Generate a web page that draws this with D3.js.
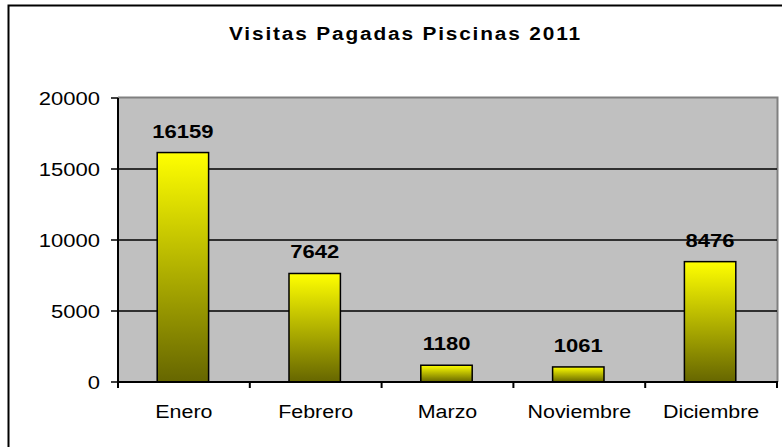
<!DOCTYPE html>
<html>
<head>
<meta charset="utf-8">
<script src="https://cdn.jsdelivr.net/npm/d3@7"></script>
<style>
  body { margin: 0; background: #fff; }
  text { font-family: "Liberation Sans", Arial, sans-serif; }
</style>
</head>
<body>
<div id="chart"></div>
<script>
// data
let months = ["Enero", "Febrero", "Marzo", "Noviembre", "Diciembre"];
let visits = [16159, 7642, 1180, 1061, 8476];
let yTicks = [0, 5000, 10000, 15000, 20000];
let title = "Visitas Pagadas Piscinas 2011";

let width = 782;
let height = 447;
let plot = {left: 118, right: 777, top: 98, bottom: 382};
let stretch = 1.19; // text in the original is a bit wider than normal

let svg = d3.select("#chart")
    .append("svg")
    .attr("width", width)
    .attr("height", height);

// gradient for the bars, yellow at the top going to dark olive
let grad = svg.append("defs").append("linearGradient")
    .attr("id", "barGrad")
    .attr("x1", 0).attr("y1", 0).attr("x2", 0).attr("y2", 1);
grad.append("stop").attr("offset", "0%").attr("stop-color", "#ffff00");
grad.append("stop").attr("offset", "100%").attr("stop-color", "#666600");

// outer frame of the chart, cut off on the right and bottom
svg.append("rect")
    .attr("x", 8.5).attr("y", 5.5)
    .attr("width", 820).attr("height", 480)
    .attr("fill", "#fff")
    .attr("stroke", "#000")
    .attr("stroke-width", 2);

const x = d3.scaleBand()
    .domain(months)
    .range([plot.left, plot.right]);

const y = d3.scaleLinear()
    .domain([0, 20000])
    .range([plot.bottom, plot.top]);

// helper for the horizontally stretched text
function stretchedText(px, py, str, size, weight, anchor) {
    return svg.append("g")
        .attr("transform", "translate(" + px + "," + py + ") scale(" + stretch + ",1)")
        .append("text")
        .attr("text-anchor", anchor)
        .style("font-size", size + "px")
        .style("font-weight", weight)
        .attr("fill", "#000")
        .text(str);
}

// gray plot area
svg.append("rect")
    .attr("x", plot.left).attr("y", plot.top)
    .attr("width", plot.right - plot.left)
    .attr("height", plot.bottom - plot.top)
    .attr("fill", "#c0c0c0");

// top and right border of the plot, gray
svg.append("path")
    .attr("d", "M" + plot.left + "," + (plot.top - 0.5) + "H" + (plot.right + 0.5) + "V" + plot.bottom)
    .attr("fill", "none")
    .attr("stroke", "#808080")
    .attr("stroke-width", 2);

// gridlines
svg.append("g")
    .selectAll("line")
    .data(yTicks.filter(d => d > 0 && d < 20000))
    .join("line")
    .attr("x1", plot.left).attr("x2", plot.right)
    .attr("y1", d => y(d)).attr("y2", d => y(d))
    .attr("stroke", "#000")
    .attr("stroke-width", 1.5);

// bars
let bw = x.bandwidth() * 0.39;
svg.append("g")
    .selectAll("rect")
    .data(visits)
    .join("rect")
    .attr("x", (d, i) => x(months[i]) + (x.bandwidth() - bw) / 2 - 1)
    .attr("y", d => y(d))
    .attr("width", bw)
    .attr("height", d => plot.bottom - y(d))
    .attr("fill", "url(#barGrad)")
    .attr("stroke", "#000")
    .attr("stroke-width", 1.5);

// value labels above the bars
visits.forEach(function (d, i) {
    stretchedText(x(months[i]) + x.bandwidth() / 2 - 1, y(d) - 15, d, 18.5, "bold", "middle");
});

// y axis line and ticks
svg.append("line")
    .attr("x1", plot.left).attr("x2", plot.left)
    .attr("y1", plot.top).attr("y2", plot.bottom + 6)
    .attr("stroke", "#000").attr("stroke-width", 2);
svg.append("g")
    .selectAll("line")
    .data(yTicks)
    .join("line")
    .attr("x1", plot.left - 7).attr("x2", plot.left)
    .attr("y1", d => y(d)).attr("y2", d => y(d))
    .attr("stroke", "#000").attr("stroke-width", 1.5);
yTicks.forEach(function (t) {
    stretchedText(100, y(t) + 6.5, t, 18.5, "normal", "end");
});

// x axis line and ticks between categories
svg.append("line")
    .attr("x1", plot.left).attr("x2", plot.right + 1)
    .attr("y1", plot.bottom).attr("y2", plot.bottom)
    .attr("stroke", "#000").attr("stroke-width", 2);
svg.append("g")
    .selectAll("line")
    .data(months.concat(["end"]))
    .join("line")
    .attr("x1", d => d == "end" ? plot.right : x(d))
    .attr("x2", d => d == "end" ? plot.right : x(d))
    .attr("y1", plot.bottom).attr("y2", plot.bottom + 6)
    .attr("stroke", "#000").attr("stroke-width", 2);
months.forEach(function (m) {
    stretchedText(x(m) + x.bandwidth() / 2, 418, m, 18, "normal", "middle");
});

// title, the original has wide letter spacing
stretchedText(404.5, 40, title, 17.5, "bold", "middle")
    .attr("textLength", 351 / stretch)
    .attr("lengthAdjust", "spacing");
</script>
</body>
</html>
